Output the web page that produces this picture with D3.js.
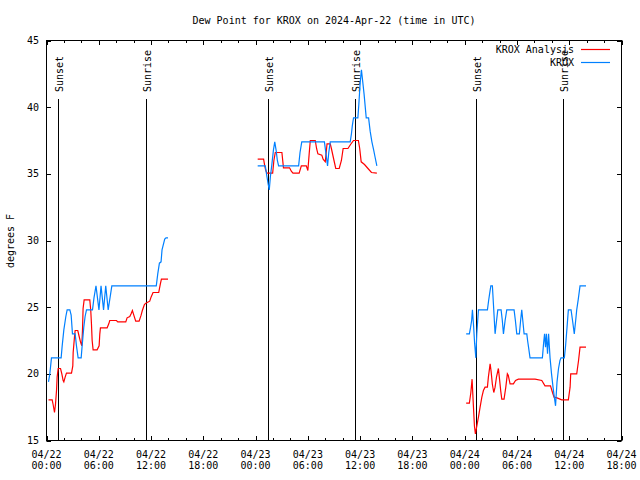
<!DOCTYPE html>
<html>
<head>
<meta charset="utf-8">
<script src="https://cdn.jsdelivr.net/npm/d3@7"></script>
<style>
  html, body { margin: 0; padding: 0; background: #fff; }
  svg { display: block; }
  text { font-family: "DejaVu Sans Mono", "Liberation Mono", monospace; font-size: 10px; fill: #000; }
</style>
</head>
<body>
<svg id="chart" width="640" height="480"></svg>
<script>
// ---- Data (hours since 2024-04-22 00:00 UTC, dew point in degrees F) ----
const analysisSeg1 = [[0.23,18.05],[0.65,18.05],[0.76,17.7],[0.92,17.1],[1.03,17.7],[1.15,18.75],[1.22,19.75],[1.34,20.4],[1.61,20.4],[1.76,20.0],[1.91,19.5],[1.99,19.4],[2.14,19.75],[2.29,20.05],[2.87,20.05],[3.02,20.6],[3.06,21.6],[3.21,22.75],[3.29,23.25],[3.59,23.25],[3.75,22.8],[3.9,22.4],[4.05,22.1],[4.13,23.25],[4.2,24.9],[4.32,25.55],[4.97,25.55],[5.08,24.75],[5.16,23.75],[5.24,22.5],[5.35,21.8],[5.81,21.8],[6.04,22.1],[6.12,23.0],[6.19,23.45],[6.96,23.45],[7.15,23.75],[7.26,24.0],[8.03,24.0],[8.18,23.9],[9.1,23.9],[9.25,24.2],[9.56,24.3],[9.71,24.5],[9.86,24.75],[10.02,24.4],[10.24,23.95],[10.63,23.95],[10.86,24.4],[11.0,24.75],[11.24,25.2],[11.4,25.3],[11.85,25.45],[12.0,25.75],[12.23,26.1],[12.88,26.1],[13.07,26.75],[13.19,27.1],[13.95,27.1]];
const analysisSeg2 = [[24.24,36.1],[24.92,36.1],[25.05,35.6],[25.15,35.3],[25.3,35.05],[25.96,35.05],[26.1,36.0],[26.26,36.6],[27.02,36.6],[27.2,35.45],[27.9,35.45],[28.1,35.2],[28.29,35.05],[29.0,35.05],[29.25,35.6],[29.82,35.6],[30.0,35.25],[30.15,36.5],[30.28,37.5],[30.85,37.5],[31.0,36.9],[31.15,36.5],[31.6,36.4],[31.75,36.1],[32.0,35.9],[32.2,37.25],[32.57,37.25],[32.7,36.9],[33.0,36.0],[33.2,35.4],[33.6,35.4],[33.85,36.0],[34.05,36.9],[34.6,36.9],[34.9,37.2],[35.24,37.5],[35.8,37.5],[35.95,36.9],[36.12,35.9],[36.5,35.7],[36.9,35.4],[37.3,35.1],[37.92,35.05]];
const analysisSeg3 = [[48.17,17.8],[48.54,17.8],[48.71,18.6],[48.85,19.6],[49.0,17.6],[49.12,16.1],[49.23,15.5],[49.37,16.0],[49.58,16.75],[49.77,17.5],[49.97,18.25],[50.15,18.75],[50.34,19.0],[50.61,19.0],[50.72,19.75],[50.92,20.75],[51.03,20.2],[51.18,19.2],[51.34,18.6],[51.49,19.0],[51.66,19.8],[51.87,20.4],[52.0,19.6],[52.14,18.7],[52.26,18.1],[52.52,18.1],[52.72,19.0],[52.9,20.0],[53.0,19.9],[53.21,19.25],[53.59,19.25],[53.84,19.5],[54.16,19.6],[56.08,19.6],[56.85,19.5],[57.22,19.1],[57.85,19.1],[58.08,18.6],[58.26,18.25],[58.6,18.2],[59.14,18.05],[59.9,18.05],[60.1,19.0],[60.17,20.0],[60.86,20.0],[61.07,21.0],[61.24,22.0],[61.93,22.0]];

const kroxSeg1 = [[0.23,19.4],[0.38,20.0],[0.57,21.2],[1.68,21.2],[1.80,22.1],[1.99,23.3],[2.22,24.3],[2.37,24.8],[2.68,24.8],[2.83,24.4],[2.98,23.0],[3.29,23.0],[3.44,22.1],[3.63,21.2],[3.98,21.2],[4.09,22.1],[4.28,23.5],[4.43,24.3],[4.59,24.8],[5.28,24.8],[5.45,25.7],[5.68,26.6],[6.02,24.8],[6.26,26.6],[6.55,24.8],[6.8,26.6],[7.08,24.8],[7.5,26.6],[12.6,26.6],[12.77,27.5],[12.96,28.3],[13.15,28.4],[13.26,29.3],[13.57,30.1],[13.72,30.2],[13.95,30.2]];
const kroxSeg2 = [[24.24,35.6],[25.11,35.6],[25.3,34.8],[25.45,34.2],[25.57,33.8],[25.7,34.8],[25.85,35.6],[26.05,36.8],[26.2,37.4],[26.35,36.8],[26.5,36.0],[26.64,35.6],[28.94,35.6],[29.1,36.6],[29.3,37.4],[31.9,37.4],[32.1,36.4],[32.26,35.6],[32.4,36.6],[32.57,37.4],[34.86,37.4],[35.0,38.0],[35.1,38.6],[35.24,39.2],[35.74,39.2],[35.85,40.2],[36.0,41.8],[36.15,42.8],[36.3,41.9],[36.45,41.0],[36.7,39.2],[36.97,39.2],[37.15,38.2],[37.35,37.4],[37.55,36.8],[37.7,36.3],[37.92,35.6]];
const kroxSeg3 = [[48.17,23.0],[48.54,23.0],[48.68,23.5],[48.8,24.0],[48.89,24.8],[49.03,23.5],[49.14,22.3],[49.28,21.2],[49.39,23.0],[49.58,24.8],[50.61,24.8],[50.75,25.5],[50.86,26.0],[51.0,26.6],[51.18,26.6],[51.32,25.0],[51.49,23.0],[51.66,24.0],[51.8,24.8],[52.18,24.8],[52.32,24.0],[52.45,23.0],[52.64,24.0],[52.83,24.8],[53.67,24.8],[53.82,24.0],[53.98,23.0],[54.28,23.0],[54.42,24.0],[54.55,24.8],[54.67,24.0],[54.82,23.0],[55.13,23.0],[55.22,22.5],[55.33,22.0],[55.5,21.2],[56.92,21.2],[57.06,22.3],[57.17,23.0],[57.28,22.0],[57.38,23.0],[57.51,21.5],[57.63,23.0],[57.8,21.2],[57.97,20.0],[58.14,19.0],[58.26,18.4],[58.43,17.6],[58.6,19.4],[58.77,20.4],[58.94,21.0],[59.06,21.2],[59.44,21.2],[59.58,22.1],[59.75,23.5],[59.9,24.8],[60.21,24.8],[60.38,24.0],[60.58,23.0],[60.74,24.0],[60.86,24.8],[61.04,25.6],[61.24,26.6],[61.93,26.6]];

const sunEvents = [
  { label: "Sunset",  time: "2024-04-22T01:18Z" },
  { label: "Sunrise", time: "2024-04-22T11:26Z" },
  { label: "Sunset",  time: "2024-04-23T01:23Z" },
  { label: "Sunrise", time: "2024-04-23T11:22Z" },
  { label: "Sunset",  time: "2024-04-24T01:19Z" },
  { label: "Sunrise", time: "2024-04-24T11:20Z" }
];
const yTicks = [15, 20, 25, 30, 35, 40, 45];
const seriesNames = ["KROX Analysis", "KROX"];
const seriesColors = ["#ff0000", "#0080ff"];
const titleText = "Dew Point for KROX on 2024-Apr-22 (time in UTC)";
const yLabelText = "degrees F";

// ---- Layout ----
const pL = 46.5, pR = 621.5, pT = 40.5, pB = 440.5;
const t0 = Date.UTC(2024, 3, 22, 0);
const toDate = h => new Date(t0 + h * 3600e3);

const x = d3.scaleUtc()
  .domain([new Date(Date.UTC(2024,3,22,0)), new Date(Date.UTC(2024,3,24,18))])
  .range([pL, pR]);
const y = d3.scaleLinear().domain([15, 45]).range([pB, pT]);

const svg = d3.select("#chart");

// title
svg.append("text").attr("x", (pL + pR) / 2).attr("y", 23.5)
  .attr("text-anchor", "middle").text(titleText);

// y label
svg.append("text").attr("transform", "translate(13.5,241) rotate(-90)")
  .attr("text-anchor", "middle").text(yLabelText);

// sun lines
const sunG = svg.append("g");
sunEvents.forEach(ev => {
  const sx = Math.round(x(new Date(ev.time))) + 0.5;
  sunG.append("line").attr("x1", sx).attr("x2", sx).attr("y1", 99).attr("y2", pB)
    .attr("stroke", "#000").attr("stroke-width", 1);
  sunG.append("text").attr("transform", `translate(${sx + 4.5},92) rotate(-90)`)
    .attr("text-anchor", "start").text(ev.label);
});

// ticks
const tickG = svg.append("g").attr("stroke", "#000").attr("stroke-width", 1);
const majorX = x.ticks(d3.utcHour.every(6));
const minorX = x.ticks(d3.utcHour.every(2)).filter(d => d.getUTCHours() % 6 !== 0);
majorX.forEach(d => {
  const tx = Math.round(x(d)) + 0.5;
  tickG.append("line").attr("x1", tx).attr("x2", tx).attr("y1", pB).attr("y2", pB - 4.5);
  tickG.append("line").attr("x1", tx).attr("x2", tx).attr("y1", pT).attr("y2", pT + 4.5);
});
minorX.forEach(d => {
  const tx = Math.round(x(d)) + 0.5;
  tickG.append("line").attr("x1", tx).attr("x2", tx).attr("y1", pB).attr("y2", pB - 2.5);
  tickG.append("line").attr("x1", tx).attr("x2", tx).attr("y1", pT).attr("y2", pT + 2.5);
});
yTicks.forEach(v => {
  const ty = Math.round(y(v)) + 0.5;
  tickG.append("line").attr("x1", pL).attr("x2", pL + 4.5).attr("y1", ty).attr("y2", ty);
  tickG.append("line").attr("x1", pR).attr("x2", pR - 4.5).attr("y1", ty).attr("y2", ty);
});

// tick labels
const fmtDate = d3.utcFormat("%m/%d"), fmtTime = d3.utcFormat("%H:%M");
majorX.forEach(d => {
  const t = svg.append("text").attr("text-anchor", "middle");
  t.append("tspan").attr("x", x(d)).attr("y", 457.5).text(fmtDate(d));
  t.append("tspan").attr("x", x(d)).attr("y", 469).text(fmtTime(d));
});
yTicks.forEach(v => {
  svg.append("text").attr("x", 39).attr("y", y(v) + 3.5)
    .attr("text-anchor", "end").text(v);
});

// data lines
const line = d3.line().x(d => x(toDate(d[0]))).y(d => y(d[1]));
const dataG = svg.append("g").attr("fill", "none").attr("stroke-width", 1.2)
  .attr("stroke-linejoin", "miter");
[analysisSeg1, analysisSeg2, analysisSeg3].forEach(seg => {
  dataG.append("path").datum(seg).attr("d", line).attr("stroke", seriesColors[0]);
});
[kroxSeg1, kroxSeg2, kroxSeg3].forEach(seg => {
  dataG.append("path").datum(seg).attr("d", line).attr("stroke", seriesColors[1]);
});

// border
svg.append("rect").attr("x", pL).attr("y", pT)
  .attr("width", pR - pL).attr("height", pB - pT)
  .attr("fill", "none").attr("stroke", "#000").attr("stroke-width", 1);

// legend
seriesNames.forEach((name, i) => {
  const ly = 49.5 + i * 13;
  svg.append("text").attr("x", 574).attr("y", ly + 3.5)
    .attr("text-anchor", "end").text(name);
  svg.append("line").attr("x1", 581).attr("x2", 610).attr("y1", ly).attr("y2", ly)
    .attr("stroke", seriesColors[i]).attr("stroke-width", 1.2);
});
</script>
</body>
</html>
